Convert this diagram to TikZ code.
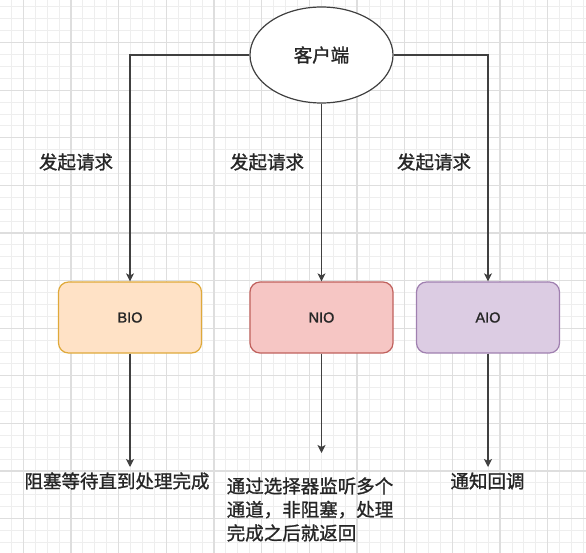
\documentclass[tikz,border=0pt]{standalone}
\usepackage{fontspec}
\setmainfont{Liberation Sans}[FakeBold=1.4]
\newfontfamily\cjk{Noto Sans CJK SC}[FakeBold=1.2]
\usetikzlibrary{shapes.geometric, arrows.meta, positioning}

\definecolor{gridlight}{HTML}{EEEEEE}
\definecolor{griddark}{HTML}{DEDEDE}
\definecolor{linegray}{HTML}{404040}
\definecolor{textgray}{HTML}{262626}
\definecolor{bioFill}{HTML}{FFE2C6}
\definecolor{bioLine}{HTML}{DFA93A}
\definecolor{nioFill}{HTML}{F6C6C4}
\definecolor{nioLine}{HTML}{C0615D}
\definecolor{aioFill}{HTML}{DCCCE3}
\definecolor{aioLine}{HTML}{A080B0}

\tikzset{
  minorline/.style={draw=gridlight, line width=0.9pt},
  majorline/.style={draw=griddark, line width=1.1pt},
  clientnode/.style={draw=linegray, ellipse, fill=white, line width=1.2pt, minimum width=143pt, minimum height=96pt, inner sep=0pt, font=\cjk\fontsize{18.5}{22}\selectfont, text=textgray},
  iobox/.style={draw, rectangle, rounded corners=10pt, line width=1.2pt, minimum width=143pt, minimum height=71pt, font=\fontsize{14.5}{17}\selectfont, text=textgray},
  reqtext/.style={inner sep=0pt, font=\cjk\fontsize{18.5}{22}\selectfont, text=textgray},
  notetext/.style={inner sep=0pt, font=\cjk\fontsize{18.5}{23.5}\selectfont, text=textgray, align=left},
  conn/.style={draw=linegray, line width=1.2pt, -{Stealth[length=8pt,width=8pt,inset=2pt]}},
}

\begin{document}
\begin{tikzpicture}[x=1pt, y=-1pt]
\useasboundingbox (0,0) rectangle (586,553);

% Grid
\begin{scope}
\clip (0,0) rectangle (586,553);
\foreach \k in {-2,...,48} \draw[minorline] ({23.3+11.92*\k},0) -- ++(0,553);
\foreach \k in {-4,...,44} \draw[minorline] (0,{42.6+11.9*\k}) -- ++(586,0);
\foreach \k in {0,...,11} \draw[majorline] ({23.3+47.67*\k},0) -- ++(0,553);
\foreach \k in {0,...,10} \draw[majorline] (0,{42.6+47.6*\k}) -- ++(586,0);
\end{scope}

% Components
\node[clientnode] (client) at (321.5,55) {客户端};

\node[iobox, fill=bioFill, draw=bioLine] (bio) at (130,317.5) {BIO};
\node[iobox, fill=nioFill, draw=nioLine] (nio) at (321.5,317.5) {NIO};
\node[iobox, fill=aioFill, draw=aioLine] (aio) at (488,317.5) {AIO};

% Requests
\draw[conn] (client.west) -| (bio.north);
\draw[conn] (client.south) -- (nio.north);
\draw[conn] (client.east) -| (aio.north);

\node[reqtext] (reqbio) at (76,162) {发起请求};
\node[reqtext] (reqnio) at (267,162) {发起请求};
\node[reqtext] (reqaio) at (434,162) {发起请求};

% Results
\coordinate (biotip) at (130,467);
\coordinate (niotip) at (321.5,453);
\coordinate (aiotip) at (488,467);

\draw[conn] (bio.south) -- (biotip);
\draw[conn] (nio.south) -- (niotip);
\draw[conn] (aio.south) -- (aiotip);

\node[notetext] (bionote) at (117,481) {阻塞等待直到处理完成};
\node[notetext] (nionote) at (310,509.5) {通过选择器监听多个\\通道，非阻塞，处理\\完成之后就返回};
\node[notetext] (aionote) at (487.5,481) {通知回调};

\end{tikzpicture}
\end{document}
